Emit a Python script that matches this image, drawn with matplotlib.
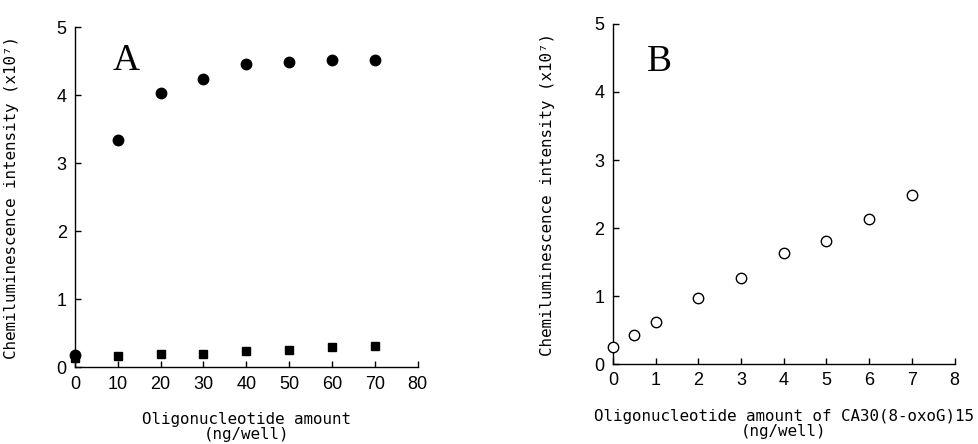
import matplotlib
matplotlib.use("Agg")
import matplotlib.pyplot as plt

# panel A: oligonucleotide amount (ng/well)
amount_a = [0, 10, 20, 30, 40, 50, 60, 70]
circles_a = [0.18, 3.34, 4.03, 4.24, 4.46, 4.49, 4.51, 4.52]
squares_a = [0.14, 0.17, 0.19, 0.19, 0.24, 0.26, 0.30, 0.31]

# panel B: CA30(8-oxoG)15 amount (ng/well)
amount_b = [0, 0.5, 1, 2, 3, 4, 5, 6, 7]
open_b = [0.25, 0.43, 0.62, 0.97, 1.27, 1.63, 1.81, 2.14, 2.48]

ylab = "Chemiluminescence intensity (x10\u2077)"
mono = "DejaVu Sans Mono"
tickfont = "Liberation Sans"

fig = plt.figure(figsize=(9.79, 4.44), dpi=100)
axA = fig.add_axes([0.0766, 0.173, 0.350, 0.766])
axB = fig.add_axes([0.626, 0.180, 0.349, 0.766])


def style(ax, xmax, xticks):
    ax.set_xlim(0, xmax)
    ax.set_ylim(0, 5)
    ax.set_xticks(xticks)
    ax.set_yticks(range(6))
    for s in ["top", "right"]:
        ax.spines[s].set_visible(False)
    for s in ["left", "bottom"]:
        ax.spines[s].set_linewidth(1.0)
    ax.tick_params(direction="in", length=4, width=1.0, labelsize=13, pad=6)
    for lab in ax.get_xticklabels() + ax.get_yticklabels():
        lab.set_fontfamily(tickfont)
    ax.set_ylabel(ylab, fontfamily=mono, fontsize=11.4)


style(axA, 80, range(0, 81, 10))
axA.plot(amount_a, circles_a, "o", color="black", markersize=7.5, clip_on=False, zorder=3)
axA.plot(amount_a, squares_a, "s", color="black", markersize=6, clip_on=False, zorder=3)
axA.set_xlabel("Oligonucleotide amount\n(ng/well)", fontfamily=mono, fontsize=11.4,
               linespacing=1.0, labelpad=14)
axA.yaxis.set_label_coords(-0.164, 0.5)
axA.text(0.15, 0.90, "A", transform=axA.transAxes, fontfamily="Liberation Serif",
         fontsize=27, ha="center", va="center")

style(axB, 8, range(0, 9))
axB.plot(amount_b, open_b, "o", markerfacecolor="white", markeredgecolor="black",
         markeredgewidth=1.0, markersize=7.5, clip_on=False, zorder=3)
axB.set_xlabel("Oligonucleotide amount of CA30(8-oxoG)15\n(ng/well)", fontfamily=mono,
               fontsize=11.4, linespacing=1.0, labelpad=14)
axB.yaxis.set_label_coords(-0.17, 0.5)
axB.text(0.135, 0.89, "B", transform=axB.transAxes, fontfamily="Liberation Serif",
         fontsize=27, ha="center", va="center")

fig.savefig("out.png", dpi=100)
